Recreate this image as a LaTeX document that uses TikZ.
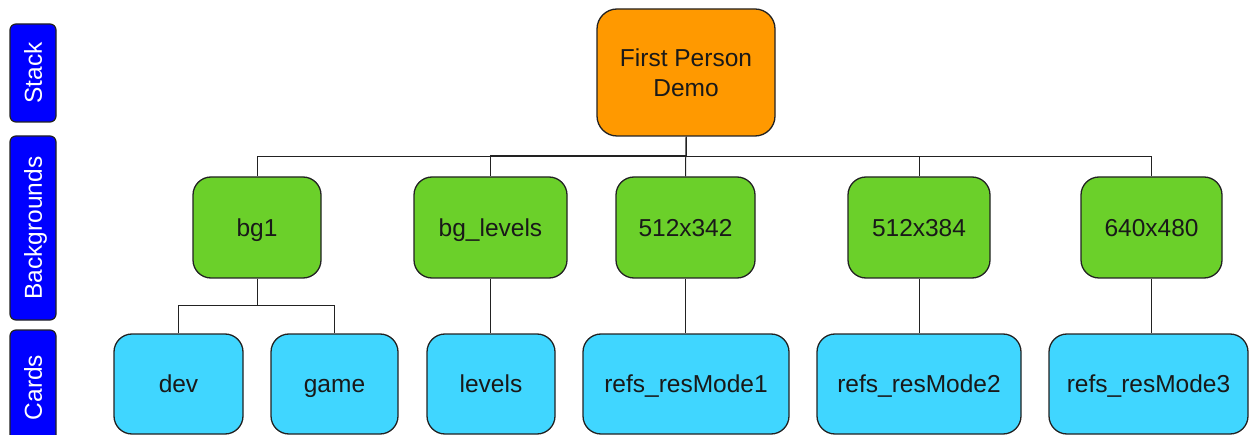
\documentclass[tikz,border=0pt]{standalone}
\usepackage{fontspec}
\setmainfont{Liberation Sans}
\definecolor{stackorange}{HTML}{FF9900}
\definecolor{bggreen}{HTML}{6BD02A}
\definecolor{cardcyan}{HTML}{40D6FF}
\definecolor{labblue}{HTML}{0000FF}
\definecolor{edge}{HTML}{222222}
\begin{document}
\begin{tikzpicture}[x=1pt,y=-1pt,
  every node/.style={font=\fontsize{24.5}{30}\selectfont, text=black!90, inner sep=0pt,
    text height=22.4pt, text depth=4.9pt},
  box/.style={draw=edge, line width=1.3pt, rounded corners=18pt, align=center},
  stackbox/.style={box, fill=stackorange, rounded corners=20pt, text height=52.4pt},
  bgbox/.style={box, fill=bggreen, minimum height=101pt},
  cardbox/.style={box, fill=cardcyan, minimum height=100pt},
  lane/.style={draw=edge, line width=1.2pt, fill=labblue, rounded corners=6pt,
    rotate=90, text=white, minimum height=46pt},
  link/.style={draw=edge, line width=1pt}]
\useasboundingbox (0,0) rectangle (1249,435);

% row labels
\node[lane, minimum width=98pt] (lstack) at (33,73) {Stack};
\node[lane, minimum width=184pt] (lbg) at (33,228) {Backgrounds};
\node[lane, minimum width=115pt] (lcards) at (33,387.5) {Cards};

% stack (two lines: height covers both lines)
\node[stackbox, minimum width=178pt, minimum height=127pt] (top) at (686,72.5) {First Person\\Demo};

% backgrounds
\node[bgbox, minimum width=128pt] (bg1) at (257,227.5) {bg1};
\node[bgbox, minimum width=153pt] (bglev) at (490.5,227.5) {bg\_levels};
\node[bgbox, minimum width=139pt] (r342) at (685.5,227.5) {512x342};
\node[bgbox, minimum width=142pt] (r384) at (919,227.5) {512x384};
\node[bgbox, minimum width=141pt] (r640) at (1151.5,227.5) {640x480};

% cards
\node[cardbox, minimum width=129pt] (dev) at (178.5,384) {dev};
\node[cardbox, minimum width=127pt] (game) at (334.5,384) {game};
\node[cardbox, minimum width=128pt] (levels) at (491,384) {levels};
\node[cardbox, minimum width=206pt] (rm1) at (686,384) {refs\_resMode1};
\node[cardbox, minimum width=204pt] (rm2) at (919,384) {refs\_resMode2};
\node[cardbox, minimum width=199pt] (rm3) at (1148.5,384) {refs\_resMode3};

% stack -> backgrounds
\draw[link] (top.south) -- (top.south |- 0,157) -| (bg1.north);
\draw[link] (top.south) -- (top.south |- 0,156) -| (bglev.north);
\draw[link] (top.south) -- (r342.north);
\draw[link] (top.south) -- (top.south |- 0,157) -| (r384.north);
\draw[link] (top.south) -- (top.south |- 0,157) -| (r640.north);

% backgrounds -> cards
\draw[link] (bg1.south) -- (bg1.south |- 0,306) -| (dev.north);
\draw[link] (bg1.south) -- (bg1.south |- 0,306) -| (game.north);
\draw[link] (bglev.south) -- (bglev.south |- levels.north);
\draw[link] (r342.south) -- (r342.south |- rm1.north);
\draw[link] (r384.south) -- (r384.south |- rm2.north);
\draw[link] (r640.south) -- (r640.south |- rm3.north);
\end{tikzpicture}
\end{document}
